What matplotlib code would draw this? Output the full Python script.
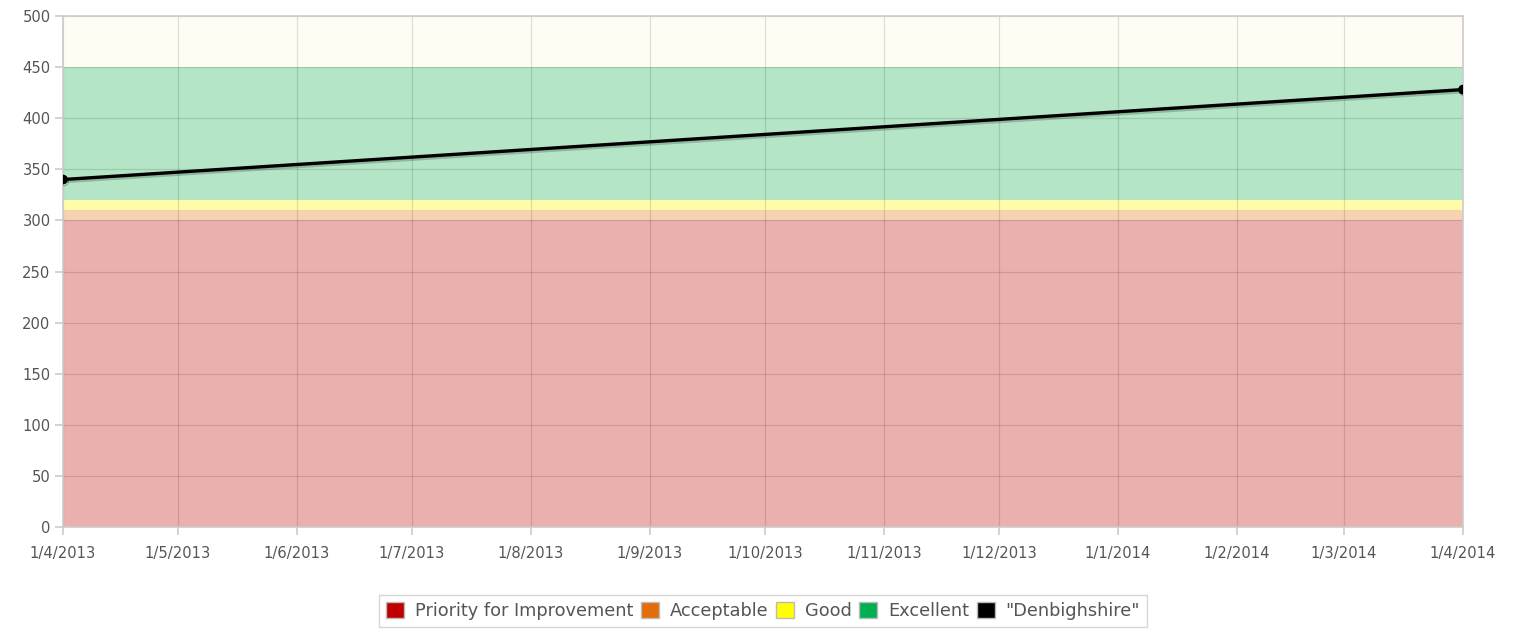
import matplotlib
matplotlib.use('Agg')
import matplotlib.pyplot as plt
import matplotlib.dates as mdates
import matplotlib.patches as mpatches
import matplotlib.patheffects as pe
from datetime import date

plt.rcParams['font.family'] = ['DejaVu Sans']

# data
band_names = ['Priority for Improvement', 'Acceptable', 'Good', 'Excellent']
band_low = [0, 300, 310, 320]
band_high = [300, 310, 320, 450]
band_fill = ['#EAB0AD', '#F5D3B0', '#FFFBA8', '#B3E5C6']
legend_cols = ['#C00000', '#E46C0A', '#FFFF00', '#00B050']
top_low, top_high, top_fill = 450, 500, '#FFFCF4'

series_name = '"Denbighshire"'
series_dates = [date(2013, 4, 1), date(2014, 4, 1)]
series_vals = [340, 428]

tick_dates = [date(2013, m, 1) for m in range(4, 13)] + [date(2014, m, 1) for m in range(1, 5)]
yticks = list(range(0, 501, 50))

fig = plt.figure(figsize=(15.18, 6.32), dpi=100)
ax = fig.add_axes([63 / 1518, 1 - 527 / 632, 1400 / 1518, 511 / 632])

x0, x1 = mdates.date2num(series_dates[0]), mdates.date2num(series_dates[-1])
for lo, hi, c in zip(band_low, band_high, band_fill):
    ax.axhspan(lo, hi, color=c, lw=0, zorder=0)
ax.axhspan(top_low, top_high, color=top_fill, lw=0, zorder=0)

ax.plot(series_dates, series_vals, color='black', lw=2.4, marker='o', ms=6,
        clip_on=True, zorder=3,
        path_effects=[pe.SimpleLineShadow(offset=(0.8, -1.5), alpha=0.2, shadow_color='black'),
                      pe.Normal()])

ax.set_xlim(x0, x1)
ax.set_ylim(0, 500)
ax.set_yticks(yticks)
ax.set_xticks(tick_dates)
ax.xaxis.set_major_formatter(plt.FuncFormatter(
    lambda v, p: '{}/{}/{}'.format(mdates.num2date(v).day, mdates.num2date(v).month, mdates.num2date(v).year)))

ax.grid(True, color='black', alpha=0.12, lw=0.9)
for ln in ax.get_xgridlines() + ax.get_ygridlines():
    ln.set_zorder(1)

for s in ax.spines.values():
    s.set_color('#cccccc')
    s.set_linewidth(1.2)
ax.tick_params(colors='#cccccc', labelcolor='#555555', labelsize=10.6, length=6, width=1.2)
ax.tick_params(axis='x', pad=8)
ax.tick_params(axis='y', pad=3)

handles = [mpatches.Patch(facecolor=c, edgecolor='#bbbbbb', lw=1, label=n)
           for c, n in zip(legend_cols, band_names)]
handles.append(mpatches.Patch(facecolor='#000000', edgecolor='#bbbbbb', lw=1, label=series_name))
leg = fig.legend(handles=handles, loc='center', bbox_to_anchor=(763 / 1518, 1 - 611 / 632),
                 ncol=5, frameon=True, fancybox=False, fontsize=12.8, handlelength=1.0,
                 handleheight=1.0, handletextpad=0.6, columnspacing=0.45, borderpad=0.4,
                 borderaxespad=0)
leg.get_frame().set_edgecolor('#cccccc')
leg.get_frame().set_linewidth(1)
for t in leg.get_texts():
    t.set_color('#555555')

fig.savefig('out.png', dpi=100)
